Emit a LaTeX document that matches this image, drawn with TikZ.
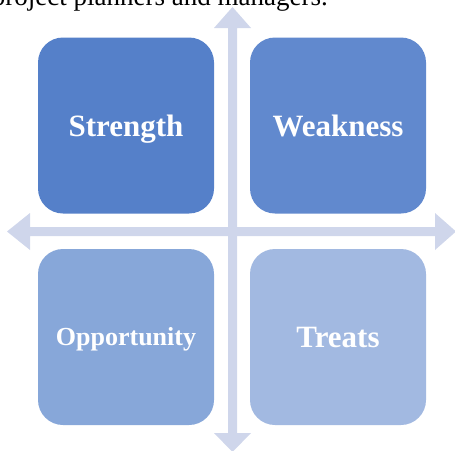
\documentclass[tikz,border=0pt]{standalone}
\usepackage{fontspec}
\setmainfont{Liberation Serif}
\definecolor{strengthblue}{HTML}{5580C9}
\definecolor{weaknessblue}{HTML}{6189CE}
\definecolor{opportunityblue}{HTML}{87A7D9}
\definecolor{treatsblue}{HTML}{A2B9E1}
\definecolor{axisgray}{HTML}{CFD6EB}
\tikzset{
  quad/.style={rounded corners=25pt, minimum width=176pt, minimum height=176pt,
    inner sep=0pt, text height=21pt, text depth=0pt, text=white,
    font=\bfseries\fontsize{31}{31}\selectfont},
  axisarrow/.style={fill=axisgray, draw=none}
}

\begin{document}
\begin{tikzpicture}[x=1pt,y=-1pt]
      \useasboundingbox (0,0) rectangle (455,450);
      \clip (0,0) rectangle (455,450);
      % text line above, cut by the page
      \node[anchor=base east, inner sep=0pt, font=\fontsize{27}{27}\selectfont] (caption) at (328,5) {project planners and managers.};
      % axes
      \fill[axisarrow] (232.5,7) -- (251,28) -- (237,28) -- (237,433) -- (251,433) -- (232.5,452)
        -- (214,433) -- (228,433) -- (228,28) -- (214,28) -- cycle;
      \fill[axisarrow] (7,231.5) -- (30,213) -- (30,227) -- (435,227) -- (435,213) -- (456,231.5)
        -- (435,250) -- (435,236) -- (30,236) -- (30,250) -- cycle;
      % quadrants
      \node[quad, fill=strengthblue] (strength) at (126,125.5) {Strength};
      \node[quad, fill=weaknessblue] (weakness) at (338,125.5) {Weakness};
      \node[quad, fill=opportunityblue, text height=17pt, font=\bfseries\fontsize{26}{26}\selectfont] (opportunity) at (126,337) {Opportunity};
      \node[quad, fill=treatsblue] (treats) at (338,337) {Treats};
    \end{tikzpicture}
\end{document}
